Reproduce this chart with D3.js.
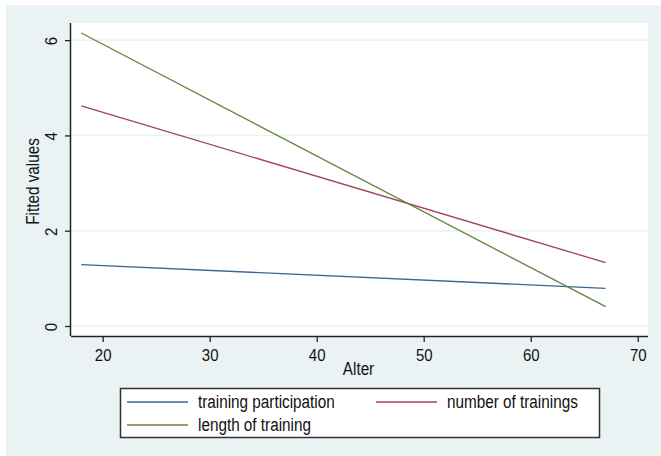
<!DOCTYPE html>
<html>
<head>
<meta charset="utf-8">
<script src="https://cdn.jsdelivr.net/npm/d3@7"></script>
<style>
  html, body { margin: 0; padding: 0; background: #ffffff; }
  svg { display: block; font-family: "Liberation Sans", Arial, sans-serif; }
</style>
</head>
<body>
<svg id="chart" width="661" height="456"></svg>
<script>
// Age range covered by the fitted lines
const ages = [18, 67];

// Fitted values at the youngest and oldest age, one array per outcome
const participation = [1.29, 0.79];
const numTrainings = [4.62, 1.33];
const lengthTraining = [6.15, 0.405];

const seriesNames = ["training participation", "number of trainings", "length of training"];
const seriesColors = ["#3a6690", "#a0454f", "#62843c"];

const xTicks = [20, 30, 40, 50, 60, 70];
const yTicks = [0, 2, 4, 6];

const xLabel = "Alter";
const yLabel = "Fitted values";

const series = [participation, numTrainings, lengthTraining].map((vals, i) => ({
  name: seriesNames[i],
  color: seriesColors[i],
  points: ages.map((a, j) => ({ x: a, y: vals[j] }))
}));

const svg = d3.select("#chart");
const W = 661, H = 456;
const TEXT = "#111";

// Tall, slightly condensed text: regular face stretched vertically
function label(parent, tx, ty, str, size, stretch, anchor, rot) {
  const g = parent.append("g")
    .attr("transform", `translate(${tx},${ty})` + (rot ? ` rotate(${rot})` : "") + ` scale(1,${stretch})`);
  g.append("text")
    .attr("text-anchor", anchor)
    .attr("font-size", size)
    .attr("fill", TEXT)
    .text(str);
  return g;
}

// Graph region background
svg.append("rect").attr("x", 6).attr("y", 5).attr("width", W - 6).attr("height", H - 5)
  .attr("fill", "#eaf2f3");

const plot = { left: 71, right: 648, top: 23, bottom: 336 };

svg.append("rect")
  .attr("x", plot.left).attr("y", plot.top)
  .attr("width", plot.right - plot.left).attr("height", plot.bottom - plot.top)
  .attr("fill", "#ffffff");

const x = d3.scaleLinear().domain([17.04, 70.96]).range([plot.left, plot.right]);
const y = d3.scaleLinear().domain([-0.21, 6.36]).range([plot.bottom, plot.top]);

// Horizontal grid lines
svg.append("g").selectAll("line").data(yTicks).join("line")
  .attr("x1", plot.left).attr("x2", plot.right)
  .attr("y1", d => y(d)).attr("y2", d => y(d))
  .attr("stroke", "#eaf2f3").attr("stroke-width", 1.5);

// Fitted lines
const line = d3.line().x(d => x(d.x)).y(d => y(d.y));
svg.append("g").selectAll("path").data(series).join("path")
  .attr("d", d => line(d.points))
  .attr("fill", "none")
  .attr("stroke", d => d.color)
  .attr("stroke-width", 1.3);

// Axes (tick marks and axis lines from d3, labels drawn stretched)
const xAxis = d3.axisBottom(x).tickValues(xTicks).tickSize(6).tickFormat("");
const gx = svg.append("g").attr("transform", `translate(0,${plot.bottom})`).call(xAxis);
gx.select(".domain").attr("d", `M${plot.left},0.5H${plot.right}`).attr("stroke", "#222").attr("stroke-width", 1.5);
gx.selectAll(".tick line").attr("stroke", "#222").attr("stroke-width", 1.3);
gx.selectAll(".tick").each(function(d) {
  label(d3.select(this), 0, 25, d3.format("d")(d), 15, 1.12, "middle");
});

const yAxis = d3.axisLeft(y).tickValues(yTicks).tickSize(6).tickFormat("");
const gy = svg.append("g").attr("transform", `translate(${plot.left},0)`).call(yAxis);
gy.select(".domain").attr("d", `M-0.5,${plot.top}V${plot.bottom}`).attr("stroke", "#222").attr("stroke-width", 1.5);
gy.selectAll(".tick line").attr("stroke", "#222").attr("stroke-width", 1.3);
gy.selectAll(".tick").each(function(d) {
  label(d3.select(this), -14, 0.5, d3.format("d")(d), 15, 1.12, "middle", -90);
});

// Axis titles
label(svg, (plot.left + plot.right) / 2 - 1, 375, xLabel, 15.3, 1.2, "middle");
label(svg, 39, (plot.top + plot.bottom) / 2 + 2, yLabel, 15.3, 1.2, "middle", -90);

// Legend
const legend = svg.append("g");
legend.append("rect")
  .attr("x", 120.5).attr("y", 388.5).attr("width", 479).attr("height", 49)
  .attr("fill", "#ffffff").attr("stroke", "#333").attr("stroke-width", 1.5);

const legendPos = [
  { lx: 127, tx: 198, ly: 402 },
  { lx: 376, tx: 447, ly: 402 },
  { lx: 127, tx: 198, ly: 425 }
];
series.forEach((s, i) => {
  const p = legendPos[i];
  legend.append("line")
    .attr("x1", p.lx).attr("x2", p.lx + 61)
    .attr("y1", p.ly).attr("y2", p.ly)
    .attr("stroke", s.color).attr("stroke-width", 1.3);
  label(legend, p.tx, p.ly + 5.5, s.name, 15.3, 1.2, "start");
});
</script>
</body>
</html>
